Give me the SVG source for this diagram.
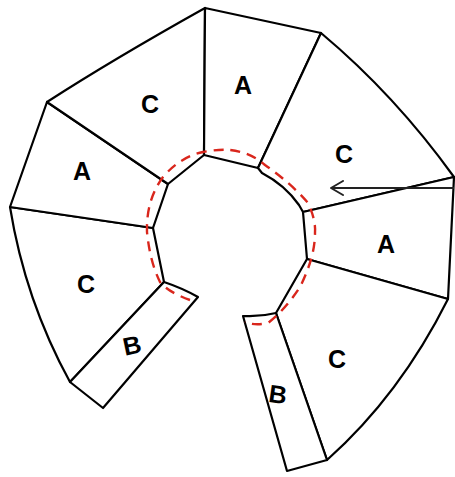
<svg xmlns="http://www.w3.org/2000/svg" width="455" height="477" viewBox="0 0 455 477">
<defs>
<style>
.seg{fill:#fff;stroke:#000;stroke-width:2.2;stroke-linejoin:round;stroke-linecap:round}
.lbl{font-family:"Liberation Sans",Arial,sans-serif;font-size:25px;font-weight:bold;fill:#000;text-anchor:middle;dominant-baseline:central}
.cut{fill:none;stroke:#d9261c;stroke-width:2.4;stroke-dasharray:10 7}
</style>
<marker id="ah" viewBox="0 0 14 16" refX="13" refY="8" markerWidth="14" markerHeight="16" markerUnits="userSpaceOnUse" orient="auto">
<path d="M1,1 L13,8 L1,15" fill="none" stroke="#222" stroke-width="2" stroke-linecap="round" stroke-linejoin="round"/>
</marker>
</defs>
<rect width="455" height="477" fill="#fff"/>
<g id="seg-c-left">
<path class="seg" d="M10,207 L153,228 L164,282 L70,382 Q25,300 10,207 Z"/>
<text class="lbl" x="86" y="284">C</text>
</g>
<g id="seg-b-left">
<path class="seg" d="M164,282 Q182,288 198,297 L103,408 L70,382 Z"/>
<text class="lbl" x="132" y="345" transform="rotate(-12 132 345)">B</text>
</g>
<g id="seg-a-left">
<path class="seg" d="M10,207 L47,102 L168,184 L153,228 Z"/>
<text class="lbl" x="82" y="171">A</text>
</g>
<g id="seg-c-topleft">
<path class="seg" d="M47,102 Q112,60 205,8 L204,155 L168,184 Z"/>
<text class="lbl" x="150" y="104">C</text>
</g>
<g id="seg-a-top">
<path class="seg" d="M205,8 L321,33 Q285,110 258,168 L204,155 Z"/>
<text class="lbl" x="243" y="85">A</text>
</g>
<g id="seg-c-topright">
<path class="seg" d="M321,33 Q395,95 454,177 L303,212 L299,205 Q285,185 262,173 L258,168 Q285,110 321,33 Z"/>
<text class="lbl" x="344" y="154">C</text>
</g>
<g id="seg-a-right">
<path class="seg" d="M454,177 L448,299 L307,259 L303,212 Z"/>
<text class="lbl" x="386" y="244">A</text>
</g>
<g id="seg-c-bottomright">
<path class="seg" d="M307,259 L448,299 Q400,395 327,460 L276,313 Z"/>
<text class="lbl" x="337" y="359">C</text>
</g>
<g id="seg-b-right">
<path class="seg" d="M243,316 Q260,317 276,313 L327,460 L287,471 Z"/>
<text class="lbl" x="278" y="394" transform="rotate(8 278 394)">B</text>
</g>
<g id="cut-line">
<path class="cut" d="M190,300 Q168,292 160,282 Q150,262 147,232 Q146,200 163,177 Q180,157 203,152 Q220,149 230,150 Q250,152 265,165 Q292,184 308,203 Q316,220 315,233 Q315,257 300,287 Q285,310 268,323 Q255,326 245,322"/>
</g>
<g id="connectors">
<line x1="454" y1="188" x2="331" y2="188" stroke="#222" stroke-width="2" marker-end="url(#ah)"/>
</g>
</svg>
